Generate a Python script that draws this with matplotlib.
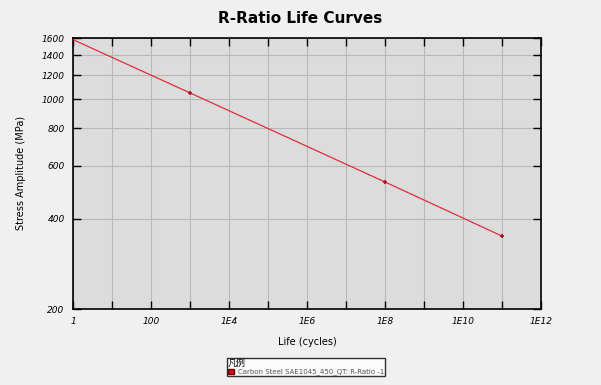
import matplotlib
matplotlib.use("Agg")
import matplotlib.pyplot as plt
from matplotlib.ticker import FixedLocator, NullLocator, FixedFormatter

plt.rcParams['font.family'] = ['DejaVu Sans', 'Noto Sans CJK SC']

# datos
vida = [1, 1e3, 1e8, 1e11]
amplitud = [1580, 1050, 530, 350]
vida_pts = [1e3, 1e8, 1e11]
amplitud_pts = [1050, 530, 350]

x_ticks = [10.0 ** k for k in range(0, 13)]
x_labels = ['1', '', '100', '', '1E4', '', '1E6', '', '1E8', '', '1E10', '', '1E12']
y_ticks = [200, 400, 600, 800, 1000, 1200, 1400, 1600]

fig = plt.figure(figsize=(6.01, 3.85), dpi=100, facecolor='#f0f0f0')
ax = fig.add_axes([73 / 601, 76 / 385, 468 / 601, 271 / 385])
ax.set_facecolor('#dcdcdc')

ax.plot(vida, amplitud, color='#e0303a', linewidth=0.9, zorder=3)
ax.plot(vida_pts, amplitud_pts, linestyle='none', marker='+', color='#b01020',
        markersize=3, markeredgewidth=1.2, zorder=4)

ax.set_xscale('log')
ax.set_yscale('log')
ax.set_xlim(1, 1e12)
ax.set_ylim(200, 1600)

ax.xaxis.set_major_locator(FixedLocator(x_ticks))
ax.xaxis.set_major_formatter(FixedFormatter(x_labels))
ax.xaxis.set_minor_locator(NullLocator())
ax.yaxis.set_major_locator(FixedLocator(y_ticks))
ax.yaxis.set_major_formatter(FixedFormatter([str(v) for v in y_ticks]))
ax.yaxis.set_minor_locator(NullLocator())

ax.tick_params(direction='in', length=6, width=1, top=True, right=True,
               labelsize=6.5, pad=6)
for lab in ax.get_xticklabels() + ax.get_yticklabels():
    lab.set_fontstyle('italic')

ax.grid(True, color='#b8b8b8', linewidth=0.8)
ax.set_axisbelow(True)
for s in ax.spines.values():
    s.set_linewidth(1.2)

ax.set_xlabel('Life (cycles)', fontsize=7, labelpad=8)
fig.text(21 / 601, 1 - 173 / 385, 'Stress Amplitude (MPa)', rotation=90,
         ha='center', va='center', fontsize=7)
fig.text(0.5, 0.953, 'R-Ratio Life Curves', ha='center', va='center',
         fontsize=11, fontweight='bold')

leg = fig.legend([plt.Rectangle((0, 0), 1, 1, facecolor='#d01020', edgecolor='#700000')],
                 ['Carbon Steel SAE1045_450_QT: R-Ratio -1'],
                 title='凡例', loc='center', bbox_to_anchor=(306 / 601, 1 - 367 / 385),
                 fontsize=5.0, title_fontsize=6.5, frameon=True, fancybox=False,
                 edgecolor='black', facecolor='white', handlelength=0.8,
                 handleheight=0.8, borderpad=0.15, labelspacing=0.1,
                 handletextpad=0.6, borderaxespad=0)
leg.get_title().set_family(['Noto Sans CJK SC', 'DejaVu Sans'])
leg._legend_box.align = 'left'
for t in leg.get_texts():
    t.set_color('#555555')

fig.savefig('out.png', dpi=100, facecolor=fig.get_facecolor())
